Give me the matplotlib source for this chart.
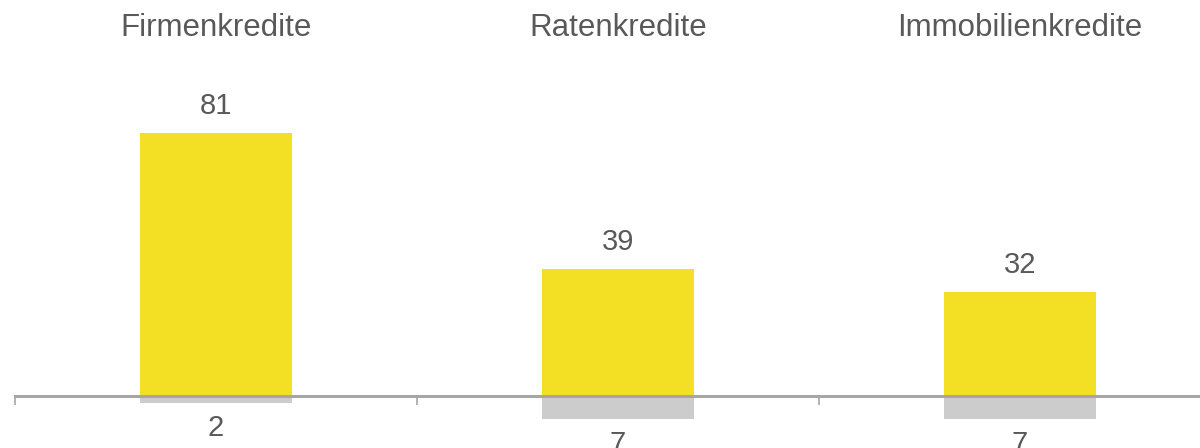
import numpy as np
import matplotlib.pyplot as plt

plt.rcParams['font.family'] = ['Liberation Sans', 'DejaVu Sans']

# Daten
kategorien = ['Firmenkredite', 'Ratenkredite', 'Immobilienkredite']
positiv = [81, 39, 32]
negativ = [2, 7, 7]

gelb = '#F3E024'
grau = '#CCCCCC'
textfarbe = '#595959'
achsenfarbe = '#A6A6A6'

fig = plt.figure(figsize=(12, 4.48), dpi=100)
# Achse reicht etwas ueber den rechten Rand hinaus (wie im Original)
ax = fig.add_axes([15 / 1200, 0, 1206 / 1200, 1])

x = np.arange(len(kategorien))
breite = 0.378

ax.bar(x, positiv, breite, color=gelb, zorder=1)
ax.bar(x, [-v for v in negativ], breite, color=grau, zorder=1)

ax.set_xlim(-0.5, len(kategorien) - 0.5)
ax.set_ylim(-16.0, 122.0)

# Werte ueber / unter den Balken
for xi, p, n in zip(x, positiv, negativ):
    ax.annotate(str(p), (xi, p), xytext=(0, 14), textcoords='offset points',
                ha='center', va='baseline', fontsize=21, color=textfarbe)
    ax.annotate(str(n), (xi, -n), xytext=(0, -24), textcoords='offset points',
                ha='center', va='baseline', fontsize=21, color=textfarbe)

# Kategorienamen oben
for xi, name in zip(x, kategorien):
    ax.text(xi, 110.9, name, ha='center', va='baseline', fontsize=22.5,
            color=textfarbe)

for s in ['top', 'right', 'left']:
    ax.spines[s].set_visible(False)
ax.spines['bottom'].set_position(('data', 0))
ax.spines['bottom'].set_color(achsenfarbe)
ax.spines['bottom'].set_linewidth(2.2)

ax.set_yticks([])
ax.set_xticks(np.arange(len(kategorien) + 1) - 0.5)
ax.set_xticklabels([])
ax.tick_params(axis='x', direction='out', length=6.5, width=1.2,
               color=achsenfarbe)

fig.savefig('out.png', dpi=100)
